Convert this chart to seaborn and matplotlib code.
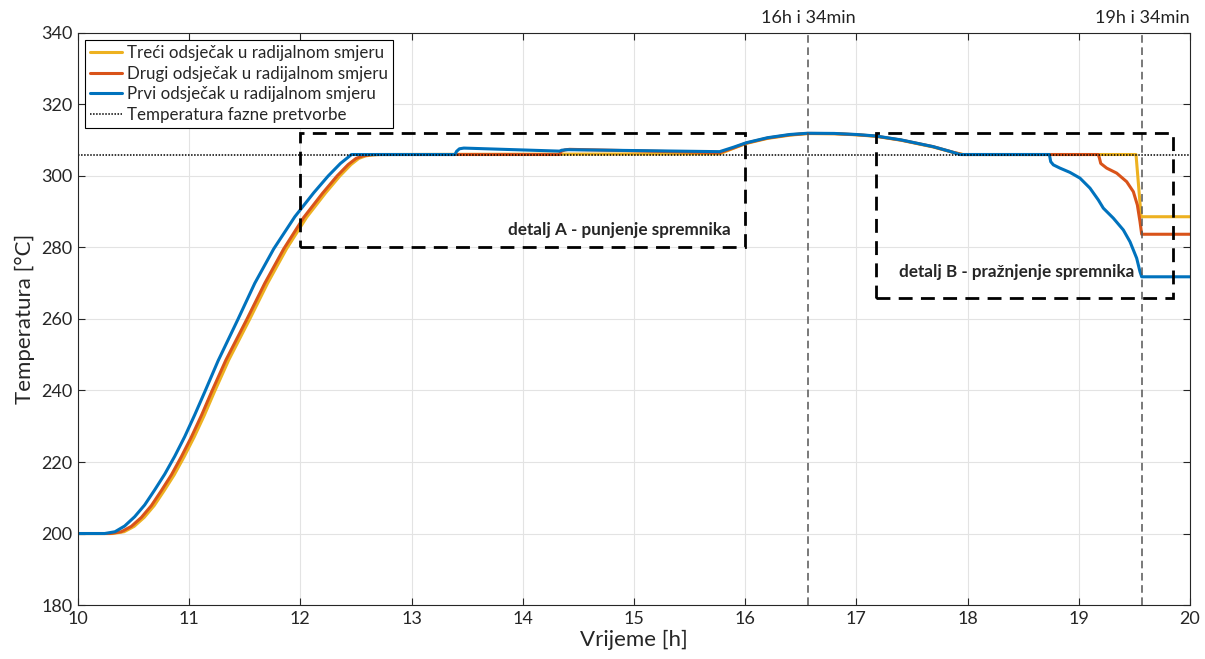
import matplotlib
matplotlib.use("Agg")
import matplotlib.pyplot as plt
import matplotlib.patches as mpatches
import pandas as pd
import seaborn as sns

# series (time in h, temperature in degC)
prvi_t = [10.0, 10.24, 10.333, 10.42, 10.51, 10.60, 10.69, 10.78, 10.87, 10.96, 11.05, 11.14,
          11.26, 11.44, 11.59, 11.76, 11.95, 12.12, 12.25, 12.36, 12.46,
          13.39, 13.405, 13.43, 13.47, 14.33, 14.35, 14.4, 15.77,
          15.9, 16.01, 16.2, 16.4, 16.56, 16.8, 17.0, 17.17, 17.4, 17.69, 17.85, 17.93,
          18.735, 18.747, 18.771, 18.83, 18.92, 19.01, 19.10, 19.175, 19.22, 19.31, 19.40,
          19.46, 19.52, 19.55, 19.565, 20.0]
prvi_T = [200, 200, 200.5, 202.1, 204.7, 208.0, 212.2, 216.6, 221.6, 227.1, 233.2, 239.6,
          248.3, 260, 270, 279.6, 288.6, 295.3, 300, 303.5, 306,
          306, 306.9, 307.6, 307.8, 306.95, 307.2, 307.35, 306.8,
          308.1, 309.3, 310.7, 311.6, 311.95, 311.9, 311.6, 311.2, 310.1, 308.2, 306.8, 306,
          306, 304.0, 303.1, 302.2, 301.0, 299.4, 296.6, 293.3, 291.0, 288.2, 284.9,
          281.6, 277.0, 273.2, 271.8, 271.8]

drugi_t = [10.0, 10.29, 10.39, 10.48, 10.57, 10.66, 10.75, 10.84, 10.93, 11.02, 11.11, 11.20,
           11.33, 11.52, 11.68, 11.85, 12.03, 12.2, 12.33, 12.43, 12.50, 12.56, 12.62, 12.69,
           14.33, 14.345, 14.38, 14.42, 15.77,
           15.9, 16.01, 16.2, 16.4, 16.56, 16.8, 17.0, 17.17, 17.4, 17.69, 17.86, 17.95,
           19.175, 19.185, 19.197, 19.25, 19.34, 19.43, 19.49, 19.526, 19.55, 19.565, 20.0]
drugi_T = [200, 200, 200.5, 202.0, 204.5, 207.8, 212.0, 216.4, 221.5, 227.0, 233.0, 239.5,
           248.5, 260, 270, 279.6, 288.4, 295.2, 300, 303.2, 304.9, 305.6, 305.9, 306,
           306, 306.9, 307.3, 307.45, 306.5,
           307.9, 309.2, 310.6, 311.5, 311.9, 311.85, 311.55, 311.15, 310.05, 308.2, 306.7, 306,
           306, 305.0, 303.5, 302.2, 300.8, 298.4, 295.6, 291.9, 287.2, 283.7, 283.7]

treci_t = [10.0, 10.31, 10.415, 10.505, 10.595, 10.685, 10.775, 10.865, 10.955, 11.045, 11.135,
           11.225, 11.355, 11.545, 11.705, 11.875, 12.055, 12.225, 12.355, 12.455, 12.525,
           12.585, 12.645, 12.72, 15.77,
           15.9, 16.01, 16.2, 16.4, 16.56, 16.8, 17.0, 17.17, 17.4, 17.69, 17.87, 17.96,
           19.514, 19.56, 20.0]
treci_T = [200, 200, 200.5, 202.0, 204.5, 207.8, 212.0, 216.4, 221.5, 227.0, 233.0,
           239.5, 248.5, 260, 270, 279.6, 288.4, 295.2, 300, 303.2, 304.9,
           305.6, 305.9, 306, 306.2,
           307.8, 309.1, 310.5, 311.4, 311.85, 311.8, 311.5, 311.1, 310.0, 308.1, 306.6, 306,
           306, 288.6, 288.6]

labels = ["Treći odsječak u radijalnom smjeru",
          "Drugi odsječak u radijalnom smjeru",
          "Prvi odsječak u radijalnom smjeru"]
colors = ["#EDB120", "#D95319", "#0072BD"]

t_fazne = 306
markers_t = [16 + 34 / 60, 19 + 34 / 60]
markers_lbl = ["16h i 34min", "19h i 34min"]

# dashed detail boxes: (x0, y0, width, height) and captions
box_a = (12.0, 280.0, 4.0, 32.0)
box_b = (17.18, 266.0, 2.67, 46.0)
txt_a = "detalj A - punjenje spremnika"
txt_b = "detalj B - pražnjenje spremnika"

sns.set_theme(style="ticks")
plt.rcParams["font.family"] = ["Lato", "DejaVu Sans"]

fig = plt.figure(figsize=(12.05, 6.59), dpi=100)
ax = fig.add_axes([0.0647, 0.0819, 0.9229, 0.8681])

for name, c, t, T in zip(labels, colors, [treci_t, drugi_t, prvi_t], [treci_T, drugi_T, prvi_T]):
    d = pd.DataFrame({"t": t, "T": T})
    sns.lineplot(data=d, x="t", y="T", color=c, linewidth=2.2, sort=False,
                 estimator=None, label=name, ax=ax)
ax.axhline(t_fazne, color="black", ls=(0, (1, 1)), lw=1.1, label="Temperatura fazne pretvorbe")

for xm, lbl in zip(markers_t, markers_lbl):
    ax.axvline(xm, color="#555555", ls=(0, (5, 3)), lw=1.1)
    ax.text(xm, 342, lbl, ha="center", va="bottom", fontsize=13, color="#222222")

for (x0, y0, w, h) in [box_a, box_b]:
    ax.add_patch(mpatches.Rectangle((x0, y0), w, h, fill=False, ec="black",
                                    lw=2.0, ls=(0, (5, 3)), zorder=5))
ax.text(15.87, 284.8, txt_a, ha="right", va="center", fontsize=12.3, fontweight="bold")
ax.text(17.38, 273.2, txt_b, ha="left", va="center", fontsize=12.3, fontweight="bold")

ax.set_xlim(10, 20)
ax.set_ylim(180, 340)
ax.set_xticks(range(10, 21))
ax.set_yticks(range(180, 341, 20))
ax.grid(True, color="#e3e3e3", lw=0.8)
ax.set_axisbelow(True)
ax.tick_params(direction="in", top=True, right=True, length=5, width=0.8,
               labelsize=13, colors="#262626", pad=4)
for s in ax.spines.values():
    s.set_color("#262626")
    s.set_linewidth(0.8)
ax.set_xlabel("Vrijeme [h]", fontsize=16, color="#262626", labelpad=2)
ax.set_ylabel("Temperatura [°C]", fontsize=16, color="#262626", labelpad=4)

leg = ax.legend(loc="upper left", fontsize=12.2, frameon=True, fancybox=False,
                edgecolor="black", framealpha=1, handlelength=1.9, handletextpad=0.3,
                borderpad=0.3, labelspacing=0.28, borderaxespad=0.4)
leg.get_frame().set_linewidth(0.8)

fig.savefig("out.png", dpi=100)
